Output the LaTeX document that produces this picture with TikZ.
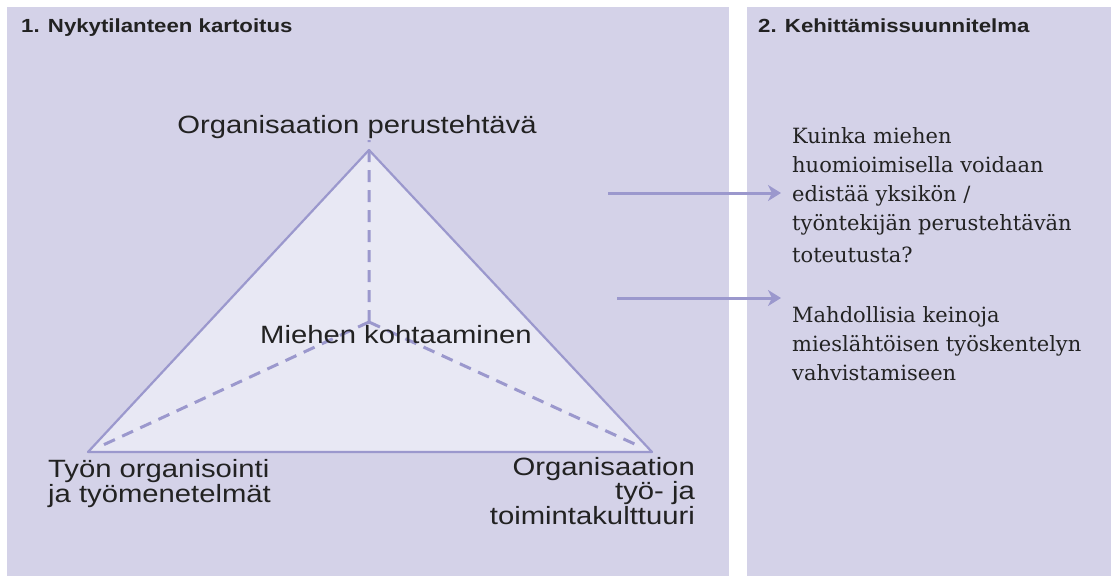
\documentclass[tikz,border=0pt]{standalone}
\usepackage{fontspec}
\setmainfont{Liberation Sans}[FakeStretch=1.17]
\newfontfamily\qfont{DejaVu Serif}
\usetikzlibrary{positioning,arrows.meta,calc}
\definecolor{panel}{HTML}{D4D2E8}
\definecolor{inner}{HTML}{E8E8F4}
\definecolor{lilac}{HTML}{9B98CD}
\definecolor{ink}{HTML}{222222}
\tikzset{
	heading/.style={font=\bfseries\fontsize{19}{22}\selectfont, text=ink, inner sep=0pt, anchor=base west},
	corner/.style={font=\fontsize{25}{23}\selectfont, text=ink, inner sep=0pt},
	question/.style={font=\qfont\fontsize{21}{29}\selectfont, text=ink, inner sep=0pt, align=left, anchor=base west},
	link/.style={lilac, line width=3pt, -{Stealth[length=13pt, width=16pt, inset=4pt]}}
}
\begin{document}
	\begin{tikzpicture}[x=1pt, y=-1pt, line join=round]
			\useasboundingbox (0,0) rectangle (1111,576);
			% two panels
			\fill [panel] (7,7) rectangle (729,576);
			\fill [panel] (747,7) rectangle (1111,576);
			\node [heading] (head1) at (21,32) {1. Nykytilanteen kartoitus};
			\node [heading] (head2) at (758,32) {2. Kehittämissuunnitelma};
			%
			\coordinate (apex) at (369,150);
			\coordinate (left) at (88,452);
			\coordinate (right) at (652,452);
			\coordinate (centre) at (369,322);
			\filldraw [fill=inner, draw=lilac, line width=2.2pt] (apex) -- (left) -- (right) -- cycle;
			\draw [lilac, line width=3pt, dash pattern=on 12pt off 8pt]
			(centre) -- ([yshift=10pt]apex)
			(centre) -- ($(centre)!0.96!(left)$)
			(centre) -- ($(centre)!0.96!(right)$);
			\node [corner, anchor=base] (top) at (357,133) {Organisaation perustehtävä};
			\node [corner, anchor=base] (middle) at (396,343) {Miehen kohtaaminen};
			% base of a multi-line node is its last line
			\node [corner, anchor=base west, align=left] (work) at (48,502) {Työn organisointi\\ja työmenetelmät};
			\node [corner, anchor=base east, align=right] (culture) at (695,524) {Organisaation\\työ- ja\\toimintakulttuuri};
			%
			\node [question] (q1) at (792,262) {Kuinka miehen\\huomioimisella voidaan\\edistää yksikön /\\työntekijän perustehtävän\\[3pt]toteutusta?};
			\node [question] (q2) at (792,380) {Mahdollisia keinoja\\mieslähtöisen työskentelyn\\vahvistamiseen};
			\coordinate (from1) at (608,193);
			\coordinate (from2) at (617,298);
			\draw [link] (from1) -- ([xshift=-11pt]q1.west |- from1);
			\draw [link] (from2) -- ([xshift=-11pt]q2.west |- from2);
	\end{tikzpicture}
\end{document}
